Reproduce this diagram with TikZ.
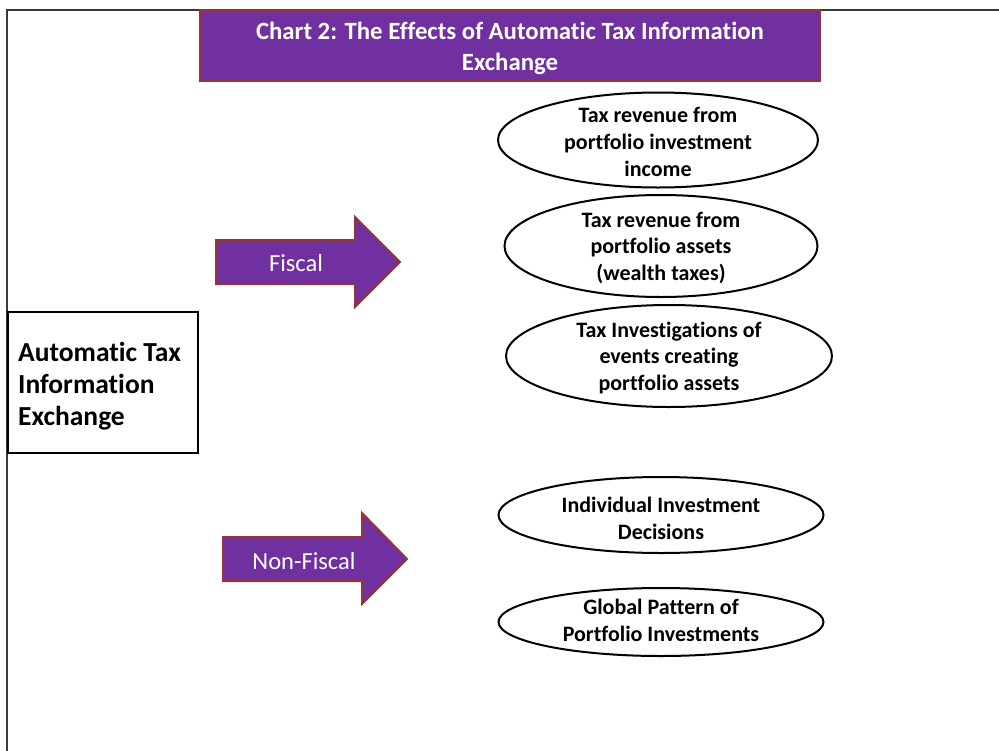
\documentclass[tikz,border=0pt]{standalone}
\usepackage{fontspec}
\setmainfont{Carlito}[Ligatures={NoCommon}]
\usetikzlibrary{shapes.geometric}
\definecolor{purp}{HTML}{7030A0}
\definecolor{bord}{HTML}{943634}
\definecolor{frame}{HTML}{3A3A3A}
\begin{document}
\begin{tikzpicture}[x=1pt,y=-1pt,
  oval/.style={draw=black, line width=2pt, ellipse, inner sep=0pt},
  ovaltext/.style={align=center, inner sep=0pt, font=\fontsize{22}{26.8}\selectfont\bfseries},
  arrowshape/.style={fill=purp, draw=bord, line width=2pt, line join=miter},
  arrowtext/.style={text=white, inner sep=0pt, font=\fontsize{24.5}{28}\selectfont},
  titlebox/.style={fill=purp, draw=bord, line width=2pt},
  leftbox/.style={draw=black, line width=2pt, fill=white}
]
\useasboundingbox (0,0) rectangle (999,750);
% outer frame
\draw[frame, line width=1.6pt] (7,760) -- (7,10) -- (1010,10);

% title
\draw[titlebox] (200,10) rectangle (820,81);
\node[text=white, align=center, inner sep=0pt,
      font=\fontsize{24.8}{31}\selectfont\bfseries] (title) at (510,48)
  {Chart 2: The Effects of Automatic Tax Information\\Exchange};

% left box
\draw[leftbox] (8,312) rectangle (198,453);
\node[anchor=west, align=left, inner sep=0pt,
      font=\fontsize{27.5}{32}\selectfont\bfseries] (ate) at (18,386)
  {Automatic Tax\\Information\\Exchange};

% Fiscal arrow
\draw[arrowshape] (216,240) -- (355,240) -- (355,217) -- (400,262) -- (355,307) -- (355,284) -- (216,284) -- cycle;
\node[arrowtext] (fiscal) at (296,263) {Fiscal};

% Non-Fiscal arrow
\draw[arrowshape] (223,537) -- (362,537) -- (362,513) -- (407,559) -- (362,604) -- (362,581) -- (223,581) -- cycle;
\node[arrowtext] (nonfiscal) at (304,561) {Non-Fiscal};

% ellipses
\node[oval, minimum width=320pt, minimum height=95pt] (e1) at (658,140) {};
\node[ovaltext] at (658,142) {Tax revenue from\\portfolio investment\\income};

\node[oval, minimum width=313pt, minimum height=102pt] (e2) at (661,246) {};
\node[ovaltext] at (661,248) {Tax revenue from\\portfolio assets\\(wealth taxes)};

\node[oval, minimum width=326pt, minimum height=102pt] (e3) at (669,356) {};
\node[ovaltext] at (669,358) {Tax Investigations of\\events creating\\portfolio assets};

\node[oval, minimum width=325pt, minimum height=76pt] (e4) at (661,515) {};
\node[ovaltext] at (661,518) {Individual Investment\\Decisions};

\node[oval, minimum width=325pt, minimum height=68pt] (e5) at (661,622) {};
\node[ovaltext] at (661,620) {Global Pattern of\\Portfolio Investments};
\end{tikzpicture}
\end{document}
